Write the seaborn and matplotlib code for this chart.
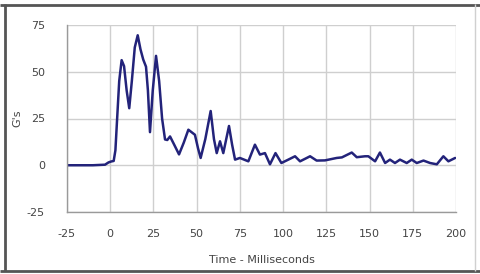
import matplotlib
matplotlib.use("Agg")
import matplotlib.pyplot as plt
import seaborn as sns
import pandas as pd
from matplotlib.lines import Line2D

time_ms = [-25, -10, -3, -1, 0.5, 2.0, 3.0, 4.0, 5.2, 6.6, 8.0, 9.5, 11.0, 12.5, 14.2, 15.9,
           17.5, 19.1, 20.7, 21.8, 23.0, 24.6, 26.5, 28.3, 30.0, 31.7, 33.0, 34.6, 37.0, 39.8,
           42.5, 45.2, 49.0, 50.8, 52.3, 55.0, 58.1, 60.0, 61.6, 63.5, 65.4, 68.7, 70.5, 72.2,
           75.0, 79.9, 83.7, 86.6, 89.5, 92.4, 95.6, 99.0, 103.0, 106.9, 109.8, 115.6, 119.4,
           124.2, 131.0, 134.0, 139.7, 142.6, 147.4, 149.3, 153.2, 156.0, 159.0, 161.8, 164.7,
           167.6, 171.5, 174.4, 177.3, 181.2, 185.0, 188.9, 192.7, 195.6, 199.5]
g_values = [0.0, 0.0, 0.3, 1.5, 2.0, 2.3, 8.0, 25.0, 45.0, 56.2, 53.0, 40.0, 30.5, 45.0, 63.0, 69.5,
            62.0, 56.5, 52.7, 40.0, 17.7, 40.0, 58.5, 45.0, 25.0, 13.8, 13.5, 15.4, 11.0, 5.8,
            12.0, 19.0, 16.3, 9.0, 3.9, 14.0, 29.0, 14.0, 6.5, 12.8, 6.5, 21.0, 11.0, 3.0,
            3.9, 2.1, 11.0, 5.7, 6.5, 0.5, 6.5, 1.2, 3.0, 4.8, 2.1, 4.8, 2.5,
            2.6, 3.9, 4.2, 6.8, 4.3, 4.8, 4.8, 2.1, 6.8, 1.2, 3.0, 1.2,
            3.0, 1.2, 3.0, 1.2, 2.5, 1.2, 0.5, 4.8, 2.1, 3.9]
x_ticks = [-25, 0, 25, 50, 75, 100, 125, 150, 175, 200]
y_ticks = [-25, 0, 25, 50, 75]

df = pd.DataFrame({"Time": time_ms, "G": g_values})

sns.set_theme(style="white")
plt.rcParams['font.family'] = ['DejaVu Sans']

fig = plt.figure(figsize=(4.81, 2.74), dpi=100)
ax = fig.add_axes([67/481, 1 - 212/274, (456 - 67)/481, (212 - 25)/274])

sns.lineplot(data=df, x="Time", y="G", ax=ax, color="#23237a", linewidth=1.8)

ax.set_xlim(-25, 200)
ax.set_ylim(-25, 75)
ax.set_xticks(x_ticks)
ax.set_yticks(y_ticks)
ax.set_xticklabels([str(t) for t in x_ticks])
ax.set_yticklabels([str(t) for t in y_ticks])
ax.grid(True, color="#cfcfcf", linewidth=1.0)
for s in ["top", "right"]:
    ax.spines[s].set_visible(False)
for s in ["left", "bottom"]:
    ax.spines[s].set_color("#9a9a9a")
    ax.spines[s].set_linewidth(1.0)
ax.tick_params(axis="both", which="both", direction="out", length=4, width=1,
               color="#9a9a9a", labelsize=8, labelcolor="#444444", pad=12)
ax.tick_params(axis="x", pad=8)
ax.set_xlabel("Time - Milliseconds", fontsize=8, color="#444444", labelpad=12)
ax.set_ylabel("G's", fontsize=8, color="#444444", labelpad=3)

W, H = 481, 274
def fline(x0, y0, x1, y1, color, lw):
    fig.lines.append(Line2D([x0 / W, x1 / W], [1 - y0 / H, 1 - y1 / H],
                            transform=fig.transFigure, color=color, linewidth=lw,
                            solid_capstyle="butt"))

fline(0, 4.5, W, 4.5, "#555555", 2.0)
fline(0, 270.5, W, 270.5, "#555555", 2.0)
fline(5, 4, 5, 271, "#555555", 2.0)
fline(475, 4, 475, 271, "#d0d0d0", 1.0)

fig.savefig("out.png", dpi=100)
